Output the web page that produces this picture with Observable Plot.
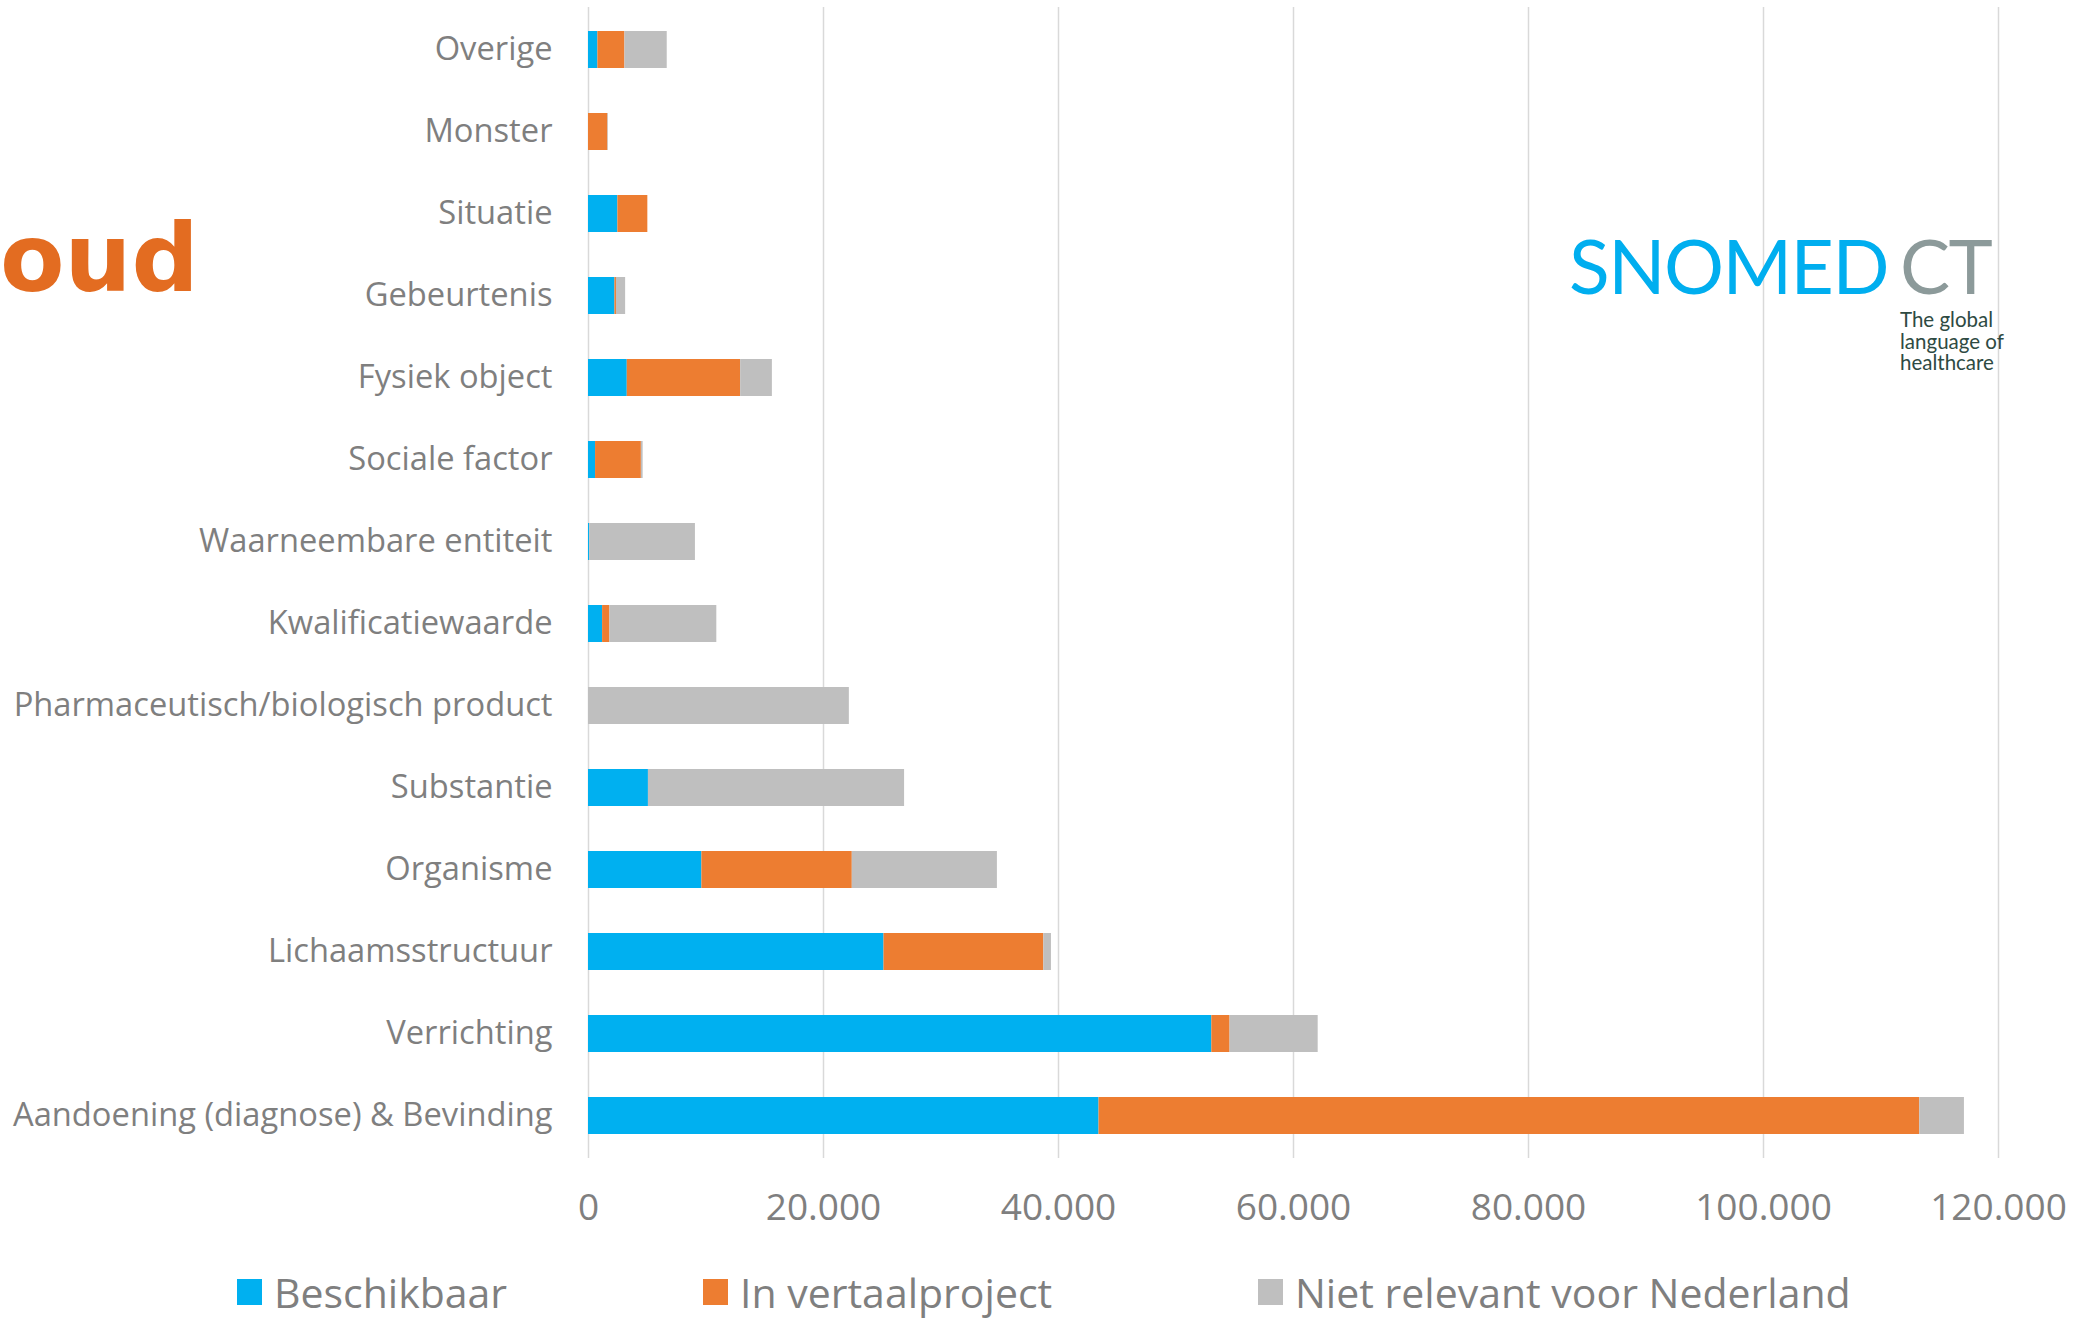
<!DOCTYPE html>
<html>
<head>
<meta charset="utf-8">
<script src="https://cdn.jsdelivr.net/npm/d3@7"></script>
<script src="https://cdn.jsdelivr.net/npm/@observablehq/plot@0.6"></script>
<style>
  html, body { margin: 0; padding: 0; background: #ffffff; }
  #wrap { position: relative; width: 2092px; height: 1323px; overflow: hidden; font-family: "Open Sans", sans-serif; }
  #chart { position: absolute; left: 0; top: 0; }
  #oud { position: absolute; left: 0px; top: 212px; font-family: "DejaVu Sans", sans-serif; font-weight: bold; font-size: 94px; color: #E36C21; line-height: 1; }
  #logo { position: absolute; left: 1569px; top: 228px; font-family: Lato, sans-serif; line-height: 1; }
  #logo .big { font-size: 75px; letter-spacing: -1.5px; white-space: nowrap; }
  #logo .sn { color: #00AEEF; }
  #logo .ct { color: #8C9A9A; margin-left: 12px; }
  #tag { position: absolute; left: 1900px; top: 309px; font-family: Lato, sans-serif; font-size: 20.5px; line-height: 21.5px; color: #2E4A42; }
  #legend { position: absolute; left: 0; top: 1271px; width: 2092px; height: 44px; font-family: "Open Sans", sans-serif; font-size: 41px; line-height: 1; color: #7F7F7F; }
  .li { position: absolute; top: 0; height: 42px; display: flex; align-items: center; white-space: nowrap; }
  .sw { width: 25px; height: 26px; margin-right: 12px; }
</style>
</head>
<body>
<div id="wrap">
  <div id="chart"></div>
  <div id="oud">oud</div>
  <div id="logo"><span class="big"><span class="sn">SNOMED</span><span class="ct">CT</span></span></div>
  <div id="tag">The global<br>language of<br>healthcare</div>
  <div id="legend"></div>
</div>
<script>
// Categories, top to bottom
const categories = [
  "Overige",
  "Monster",
  "Situatie",
  "Gebeurtenis",
  "Fysiek object",
  "Sociale factor",
  "Waarneembare entiteit",
  "Kwalificatiewaarde",
  "Pharmaceutisch/biologisch product",
  "Substantie",
  "Organisme",
  "Lichaamsstructuur",
  "Verrichting",
  "Aandoening (diagnose) & Bevinding"
];

const seriesNames = ["Beschikbaar", "In vertaalproject", "Niet relevant voor Nederland"];
const seriesColors = ["#00B0F0", "#ED7D31", "#BFBFBF"];

const beschikbaar      = [800,  0,    2500, 2250, 3300, 600,  100,  1200, 0,     5100,  9650,  25150, 53050, 43450];
const inVertaalproject = [2300, 1650, 2550, 130,  9650, 3900, 0,    620,  0,     0,     12800, 13600, 1550,  69850];
const nietRelevant     = [3600, 50,   0,    780,  2700, 150,  9000, 9100, 22200, 21800, 12350, 650,   7500,  3800];

const xTicks = [0, 20000, 40000, 60000, 80000, 100000, 120000];

const seriesValues = [beschikbaar, inVertaalproject, nietRelevant];
const data = [];
categories.forEach((c, i) => {
  seriesNames.forEach((s, j) => {
    data.push({category: c, series: s, value: seriesValues[j][i]});
  });
});

const fmt = d => d3.format(",")(d).replace(/,/g, ".");

const chart = Plot.plot({
  width: 2092,
  height: 1240,
  marginLeft: 588,
  marginRight: 94,
  marginTop: 7,
  marginBottom: 82,
  style: {background: "transparent", fontFamily: "Open Sans, sans-serif"},
  x: {domain: [0, 120000], ticks: xTicks},
  y: {domain: categories, paddingInner: 0.55, paddingOuter: 0.275, align: 0.5},
  color: {domain: seriesNames, range: seriesColors},
  marks: [
    Plot.gridX(xTicks, {stroke: "#D9D9D9", strokeOpacity: 1, strokeWidth: 1.5}),
    Plot.barX(data, Plot.stackX({
      y: "category",
      x: "value",
      fill: "series",
      order: seriesNames,
      inset: 0
    })),
    Plot.axisX(xTicks, {
      tickSize: 0,
      tickPadding: 35,
      tickFormat: fmt,
      fontSize: 37,
      fill: "#7F7F7F",
      label: null
    }),
    Plot.axisY({
      tickSize: 0,
      tickPadding: 36,
      fontSize: 32.7,
      fill: "#7F7F7F",
      label: null
    })
  ]
});
document.getElementById("chart").appendChild(chart);

// Legend
const legend = document.getElementById("legend");
const legendLeft = [237, 703, 1258];
seriesNames.forEach((s, i) => {
  const item = document.createElement("div");
  item.className = "li";
  item.style.left = legendLeft[i] + "px";
  const sw = document.createElement("div");
  sw.className = "sw";
  sw.style.background = seriesColors[i];
  const t = document.createElement("span");
  t.textContent = s;
  item.appendChild(sw);
  item.appendChild(t);
  legend.appendChild(item);
});
</script>
</body>
</html>
